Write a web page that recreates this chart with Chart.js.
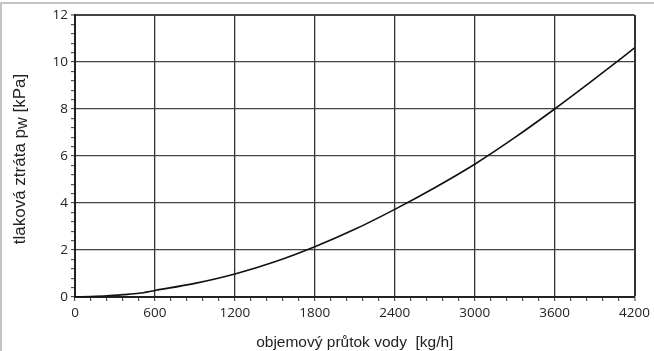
<!DOCTYPE html>
<html>
<head>
<meta charset="utf-8">
<script src="https://cdn.jsdelivr.net/npm/chart.js@4/dist/chart.umd.min.js"></script>
<style>
  html, body { margin: 0; padding: 0; background: #fff; }
  #wrap { width: 654px; height: 351px; position: relative; }
</style>
</head>
<body>
<div id="wrap"><canvas id="lossChart"></canvas></div>
<script>
// flow rate [kg/h] and pressure loss [kPa]
const flowRate = [0, 120, 240, 360, 480, 600, 900, 1200, 1500, 1800, 2100, 2400, 2700, 3000, 3300, 3600, 3900, 4200];
const pressureLoss = [0, 0.02, 0.05, 0.1, 0.16, 0.28, 0.58, 0.98, 1.5, 2.14, 2.88, 3.73, 4.65, 5.65, 6.78, 8.0, 9.28, 10.6];

const xLabelStep = 600;
const yLabelStep = 2;
const xTitle = "objemový průtok vody  [kg/h]";
const yTitle = ["tlaková ztráta p", "W", " [kPa]"]; // main text, subscript, rest

const FONT = "'Open Sans', 'DejaVu Sans', sans-serif";
const TITLE_FONT = "'Liberation Sans', Arial, sans-serif";

function isMajor(v, step) {
  const r = v / step;
  return Math.abs(r - Math.round(r)) < 1e-6;
}

// gray frame + y title with subscript
const decorations = {
  id: "decorations",
  afterDraw(chart) {
    const c = chart.ctx;
    c.save();
    c.fillStyle = "#c4c4c4";
    c.fillRect(0, 2, 654, 2);
    c.fillRect(0, 2, 2, 349);

    c.translate(20, 159);
    c.rotate(-Math.PI / 2);
    c.fillStyle = "#222";
    c.textBaseline = "middle";
    c.font = "17px " + TITLE_FONT;
    const w0 = c.measureText(yTitle[0]).width;
    c.font = "12.5px " + TITLE_FONT;
    const w1 = c.measureText(yTitle[1]).width;
    c.font = "17px " + TITLE_FONT;
    const w2 = c.measureText(yTitle[2]).width;
    let x = -(w0 + w1 + w2) / 2;
    c.textAlign = "left";
    c.fillText(yTitle[0], x, 0);
    x += w0;
    c.font = "12.5px " + TITLE_FONT;
    c.fillText(yTitle[1], x, 4);
    x += w1;
    c.font = "17px " + TITLE_FONT;
    c.fillText(yTitle[2], x, 0);
    c.restore();
  },
};

const ctx = document.getElementById("lossChart").getContext("2d");
const lossChart = new Chart(ctx, {
  type: "line",
  data: {
    datasets: [
      {
        data: flowRate.map((q, i) => ({ x: q, y: pressureLoss[i] })),
        borderColor: "#111",
        borderWidth: 1.6,
        pointRadius: 0,
        fill: false,
        cubicInterpolationMode: "monotone",
      },
    ],
  },
  options: {
    responsive: true,
    maintainAspectRatio: false,
    animation: false,
    layout: { padding: { top: 15, right: 18, left: 0, bottom: 0 } },
    plugins: { legend: { display: false }, tooltip: { enabled: false } },
    scales: {
      x: {
        type: "linear",
        min: 0,
        max: 4200,
        afterFit(scale) { scale.height = 54; },
        ticks: {
          stepSize: 120,
          autoSkip: false,
          maxRotation: 0,
          padding: 4,
          color: "#222",
          font: { family: FONT, size: 13.5 },
          callback: (v) => (isMajor(v, xLabelStep) ? String(v) : ""),
        },
        grid: {
          color: (c) => (isMajor(c.tick.value, xLabelStep) ? "#333" : "rgba(0,0,0,0)"),
          lineWidth: (c) => (c.tick.value === 4200 ? 2 : 1.3),
          tickColor: "#333",
          tickWidth: 1,
          tickLength: 4,
        },
        border: { color: "#222", width: 2 },
        title: {
          display: true,
          text: xTitle,
          color: "#222",
          font: { family: TITLE_FONT, size: 15.5 },
          padding: { top: 4, bottom: -1 },
        },
      },
      y: {
        min: 0,
        max: 12,
        afterFit(scale) { scale.width = 75; },
        ticks: {
          stepSize: 0.4,
          autoSkip: false,
          padding: 3,
          color: "#222",
          font: { family: FONT, size: 13.5 },
          callback: (v) => (isMajor(v, yLabelStep) ? String(Math.round(v)) : ""),
        },
        grid: {
          color: (c) => (isMajor(c.tick.value, yLabelStep) ? "#444" : "rgba(0,0,0,0)"),
          lineWidth: (c) => (Math.abs(c.tick.value - 12) < 1e-6 ? 2 : 1.3),
          tickColor: "#333",
          tickWidth: 1,
          tickLength: 4,
        },
        border: { color: "#222", width: 2 },
      },
    },
  },
  plugins: [decorations],
});
</script>
</body>
</html>
